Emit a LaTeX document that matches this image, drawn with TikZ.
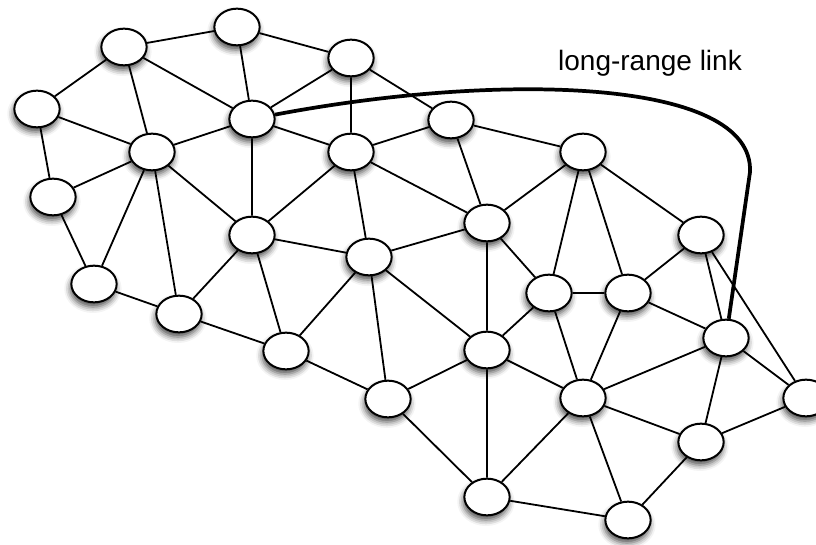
\documentclass[tikz,border=0pt]{standalone}
\usepackage{fontspec}
\setmainfont{Liberation Sans}
\usetikzlibrary{shapes.geometric,shadows.blur}
\tikzset{
peer/.style={
  draw,
  ellipse,
  fill=white,
  line width=1.5pt,
  minimum width=34pt,
  minimum height=27.5pt,
  inner sep=0pt,
  blur shadow={shadow xshift=-0.8pt, shadow yshift=-3.5pt, shadow blur radius=4.5pt, shadow opacity=70}
  },
link/.style={draw, line width=1.35pt},
longlink/.style={draw, line width=2.8pt}
}

\begin{document}
\begin{tikzpicture}[x=0.75pt,y=0.75pt,yscale=-1,xscale=1]
\useasboundingbox (0,0) rectangle (816,545);

% peers
\node[peer] (p1) at (124,47) {};
\node[peer] (p2) at (237,27) {};
\node[peer] (p3) at (351,58) {};
\node[peer] (p4) at (37,109) {};
\node[peer] (p5) at (252,119) {};
\node[peer] (p6) at (152,152) {};
\node[peer] (p7) at (351,152) {};
\node[peer] (p8) at (53,197) {};
\node[peer] (p9) at (252,235) {};
\node[peer] (p10) at (369,257) {};
\node[peer] (p11) at (94,284) {};
\node[peer] (p12) at (451,120) {};
\node[peer] (p13) at (583,152) {};
\node[peer] (p14) at (487,223) {};
\node[peer] (p15) at (701,235) {};
\node[peer] (p16) at (179,314) {};
\node[peer] (p17) at (286,351) {};
\node[peer] (p18) at (388,399) {};
\node[peer] (p19) at (549,293) {};
\node[peer] (p20) at (628,293) {};
\node[peer] (p21) at (726,338) {};
\node[peer] (p22) at (487,350) {};
\node[peer] (p23) at (583,398) {};
\node[peer] (p24) at (806,398) {};
\node[peer] (p25) at (701,442) {};
\node[peer] (p26) at (487,497) {};
\node[peer] (p27) at (628,520) {};

% short links
\draw[link] (p1) -- (p2) (p1) -- (p4) (p1) -- (p5) (p1) -- (p6);
\draw[link] (p2) -- (p3) (p2) -- (p5);
\draw[link] (p3) -- (p5) (p3) -- (p7) (p3) -- (p12);
\draw[link] (p4) -- (p6) (p4) -- (p8);
\draw[link] (p5) -- (p6) (p5) -- (p7) (p5) -- (p9);
\draw[link] (p6) -- (p8) (p6) -- (p9) (p6) -- (p11) (p6) -- (p16);
\draw[link] (p7) -- (p9) (p7) -- (p10) (p7) -- (p12) (p7) -- (p14);
\draw[link] (p8) -- (p11);
\draw[link] (p9) -- (p10) (p9) -- (p16) (p9) -- (p17);
\draw[link] (p10) -- (p14) (p10) -- (p17) (p10) -- (p18) (p10) -- (p22);
\draw[link] (p11) -- (p16);
\draw[link] (p12) -- (p13) (p12) -- (p14);
\draw[link] (p13) -- (p14) (p13) -- (p15) (p13) -- (p19) (p13) -- (p20);
\draw[link] (p14) -- (p19) (p14) -- (p22);
\draw[link] (p15) -- (p20) (p15) -- (p21) (p15) -- (p24);
\draw[link] (p16) -- (p17);
\draw[link] (p17) -- (p18);
\draw[link] (p18) -- (p22) (p18) -- (p26);
\draw[link] (p19) -- (p20) (p19) -- (p22) (p19) -- (p23);
\draw[link] (p20) -- (p21) (p20) -- (p23);
\draw[link] (p21) -- (p23) (p21) -- (p24) (p21) -- (p25);
\draw[link] (p22) -- (p23) (p22) -- (p26);
\draw[link] (p23) -- (p25) (p23) -- (p26) (p23) -- (p27);
\draw[link] (p24) -- (p25);
\draw[link] (p25) -- (p27);
\draw[link] (p26) -- (p27);

% long-range link
\coordinate (bend) at (750,172);
\draw[longlink] (p5) .. controls (500,72) and (754,78) .. (bend) -- (p21);
\node[anchor=base, font=\fontsize{21}{25}\selectfont] (lrlabel) at (650,71) {long-range link};

\end{tikzpicture}
\end{document}
